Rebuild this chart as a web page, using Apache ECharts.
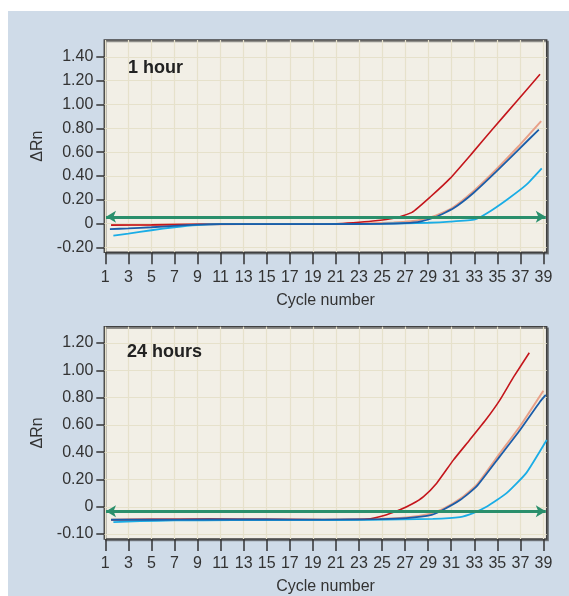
<!DOCTYPE html>
<html><head><meta charset="utf-8">
<script src="https://cdn.jsdelivr.net/npm/echarts@6/dist/echarts.min.js"></script>
<style>
html,body{margin:0;padding:0;background:#ffffff;width:569px;height:596px;overflow:hidden;}
#panel{position:absolute;left:8px;top:11px;width:561px;height:585px;background:#CFDBE8;}
#chart{width:561px;height:585px;}
</style></head>
<body><div id="panel"><div id="chart"></div></div>
<script>
// ---- tick positions and labels ----
const xTicks = [1,3,5,7,9,11,13,15,17,19,21,23,25,27,29,31,33,35,37,39];
const yTicksTop = [-0.2,0,0.2,0.4,0.6,0.8,1.0,1.2,1.4];
const yLabelsTop = ['-0.20','0','0.20','0.40','0.60','0.80','1.00','1.20','1.40'];
const yTicksBottom = [-0.2,0,0.2,0.4,0.6,0.8,1.0,1.2];
const yLabelsBottom = ['-0.10','0','0.20','0.40','0.60','0.80','1.00','1.20'];
const panelTitles = ['1 hour','24 hours'];

// ---- 1 hour panel ----
const redTopX = [1.5,5,9,13,17,21,22.5,24.2,26,27.6,29.2,30.9,32.8,34.65,36.7,38.7];
const redTopY = [-0.012,-0.01,-0.005,-0.003,-0.003,0.0,0.008,0.022,0.045,0.095,0.226,0.38,0.59,0.80,1.03,1.253];
const salmonTopX = [1.5,5,9,13,17,21,24,26,27.5,28.5,29.7,31.2,32.9,34.9,36.8,38.8];
const salmonTopY = [-0.012,-0.01,-0.005,-0.003,-0.003,-0.002,0.004,0.01,0.02,0.035,0.07,0.14,0.27,0.455,0.645,0.86];
const blueTopX = [1.4,3,5,7,9,11,15,20,25,27,28.3,29.7,31.2,32.9,34.9,36.8,38.6];
const blueTopY = [-0.045,-0.04,-0.03,-0.018,-0.008,-0.003,-0.003,-0.003,-0.002,0.004,0.017,0.058,0.129,0.255,0.436,0.618,0.79];
const cyanTopX = [1.7,3,5,7,9,11,15,20,25,29,30.9,33.07,34.1,35.8,37.5,38.85];
const cyanTopY = [-0.10,-0.083,-0.055,-0.03,-0.012,-0.004,-0.003,-0.003,0.0,0.008,0.017,0.036,0.087,0.199,0.325,0.464];
const thresholdTop = 0.058;

// ---- 24 hours panel ----
const redBotX = [1.5,5,10,15,20,23.7,25.1,26.55,27.6,28.6,29.74,31.2,32.6,34.1,35.2,36.4,37.77];
const redBotY = [-0.095,-0.092,-0.09,-0.092,-0.095,-0.09,-0.066,-0.022,0.02,0.075,0.173,0.344,0.49,0.649,0.78,0.95,1.129];
const salmonBotX = [1.5,5,10,15,20,24,27.1,29.1,30.3,31.8,33.2,35.2,36.97,38.99];
const salmonBotY = [-0.095,-0.093,-0.09,-0.092,-0.093,-0.09,-0.078,-0.052,-0.015,0.06,0.16,0.39,0.59,0.85];
const blueBotX = [1.5,5,10,15,20,24.8,27.1,29.3,30.3,31.8,33.2,35.2,36.97,38.7,39.2];
const blueBotY = [-0.095,-0.095,-0.093,-0.093,-0.094,-0.09,-0.083,-0.059,-0.022,0.051,0.149,0.368,0.563,0.77,0.82];
const cyanBotX = [1.7,4,7,12,18,24,29.4,31.76,32.9,34.1,35.8,37.5,39.28];
const cyanBotY = [-0.113,-0.105,-0.1,-0.098,-0.097,-0.096,-0.088,-0.075,-0.046,0.002,0.1,0.247,0.49];
const thresholdBot = -0.032;
const thresholdStart = 1.06, thresholdEnd = 39.2;

// ---- styling ----
const FONT = "'Liberation Sans', Arial, sans-serif";
const TXT = '#333333';
const GRIDLINE = '#E6E1CB';
const C_RED = '#C4161C', C_SALMON = '#E8A088', C_BLUE = '#1B5DA8', C_CYAN = '#1AADE6', C_GREEN = '#2A8F6C';

function zip(xs, ys){ return xs.map((x,i)=>[x, ys[i]]); }

function xAxisCfg(gi){
  return {
    type:'value', gridIndex:gi, min:0.913, max:39.28, position:'bottom',
    axisLine:{show:false, onZero:false},
    axisTick:{show:true, customValues:xTicks, length:12, lineStyle:{color:TXT, width:1.5}},
    axisLabel:{customValues:xTicks, margin:17, color:TXT, fontSize:16, fontFamily:FONT},
    splitLine:{show:true, lineStyle:{color:GRIDLINE, width:1.2}},
    name:'Cycle number', nameLocation:'middle', nameGap:40,
    nameTextStyle:{color:TXT, fontSize:16, fontFamily:FONT}
  };
}
function yAxisCfg(gi, mn, mx, ticks, labels){
  return {
    type:'value', gridIndex:gi, min:mn, max:mx, position:'left',
    axisLine:{show:false, onZero:false},
    axisTick:{show:true, customValues:ticks, length:8, lineStyle:{color:TXT, width:1.5}},
    axisLabel:{customValues:ticks, margin:11, color:TXT, fontSize:16, fontFamily:FONT,
      formatter:(v)=>{ let i = ticks.findIndex(t=>Math.abs(t-v)<1e-6); return i>=0 ? labels[i] : ''; }},
    splitLine:{show:true, lineStyle:{color:GRIDLINE, width:1.2}},
    name:'ΔRn', nameLocation:'middle', nameGap:57, nameRotate:90,
    nameTextStyle:{color:TXT, fontSize:16, fontFamily:FONT}
  };
}
function curve(gi, xs, ys, color, w){
  return {type:'line', xAxisIndex:gi, yAxisIndex:gi, data:zip(xs,ys), symbol:'none', showSymbol:false,
    smooth:0.15, silent:true, lineStyle:{color:color, width:w}, z:3};
}
function threshold(gi, v){
  return {type:'line', xAxisIndex:gi, yAxisIndex:gi, data:[], silent:true, z:4,
    markLine:{silent:true, symbol:['arrow','arrow'], symbolSize:[9,10], label:{show:false},
      lineStyle:{color:C_GREEN, width:3, type:'solid'}, emphasis:{disabled:true},
      data:[[{coord:[thresholdStart, v]},{coord:[thresholdEnd, v]}]]}};
}

const gridCommon = {show:true, backgroundColor:'#F2EFE6', borderColor:'#404040', borderWidth:1.5,
  shadowColor:'rgba(60,60,60,0.55)', shadowOffsetX:1.5, shadowOffsetY:1.5, shadowBlur:0};

const chart = echarts.init(document.getElementById('chart'), null, {renderer:'canvas'});
chart.setOption({
  animation:false,
  backgroundColor:'transparent',
  title:[
    {text:panelTitles[0], left:120, top:48, padding:0, textStyle:{color:'#222', fontSize:18, fontWeight:'bold', fontFamily:FONT}},
    {text:panelTitles[1], left:119, top:332, padding:0, textStyle:{color:'#222', fontSize:18, fontWeight:'bold', fontFamily:FONT}}
  ],
  grid:[
    Object.assign({left:96.3, top:29, width:442.4, height:212.3}, gridCommon),
    Object.assign({left:96.3, top:315.7, width:442.4, height:212.6}, gridCommon)
  ],
  xAxis:[xAxisCfg(0), xAxisCfg(1)],
  yAxis:[yAxisCfg(0,-0.24,1.541,yTicksTop,yLabelsTop), yAxisCfg(1,-0.236,1.32,yTicksBottom,yLabelsBottom)],
  series:[
    curve(0, salmonTopX, salmonTopY, C_SALMON, 2),
    curve(0, redTopX, redTopY, C_RED, 1.6),
    curve(0, cyanTopX, cyanTopY, C_CYAN, 1.8),
    curve(0, blueTopX, blueTopY, C_BLUE, 1.8),
    threshold(0, thresholdTop),
    curve(1, salmonBotX, salmonBotY, C_SALMON, 2),
    curve(1, redBotX, redBotY, C_RED, 1.6),
    curve(1, cyanBotX, cyanBotY, C_CYAN, 1.8),
    curve(1, blueBotX, blueBotY, C_BLUE, 1.8),
    threshold(1, thresholdBot)
  ]
});
</script></body></html>
